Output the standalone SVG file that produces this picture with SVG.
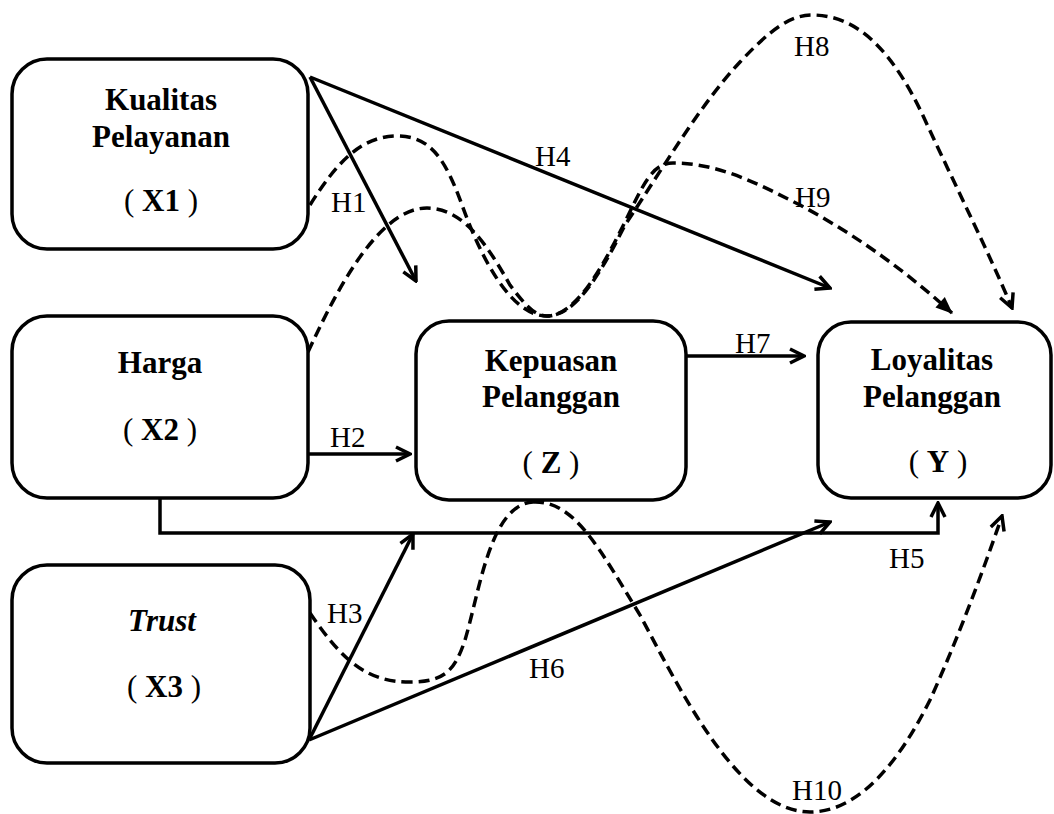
<svg xmlns="http://www.w3.org/2000/svg" width="1054" height="814" viewBox="0 0 1054 814">
<style>
.box{fill:#fff;stroke:#000;stroke-width:3.5}
.t{font-family:"Liberation Serif","Times New Roman",serif;font-size:31px;font-weight:bold;fill:#000;text-anchor:middle}
.p{font-weight:normal}
.lb{font-family:"Liberation Serif","Times New Roman",serif;font-size:29px;fill:#000}
.s{fill:none;stroke:#000;stroke-width:3.5;marker-end:url(#open)}
.d{fill:none;stroke:#000;stroke-width:3.5;stroke-dasharray:11 6}
</style>
<defs>
<marker id="open" markerUnits="userSpaceOnUse" viewBox="0 0 20 20" markerWidth="20" markerHeight="20" refX="18" refY="10" orient="auto">
<path d="M4,3 L18,10 L4,17" fill="none" stroke="#000" stroke-width="3.5" stroke-dasharray="none"/>
</marker>
<marker id="fill" markerUnits="userSpaceOnUse" viewBox="0 0 20 20" markerWidth="20" markerHeight="20" refX="18" refY="10" orient="auto">
<path d="M2,3 L19,10 L2,17 Z" fill="#000" stroke="none"/>
</marker>
</defs>
<rect width="1054" height="814" fill="#fff"/>
<g id="connectors">
<path class="s" d="M310,77 L416,281"/>
<path class="s" d="M310,77 L830,288"/>
<path class="s" d="M308,454 L410,454"/>
<path class="s" d="M686,356 L804,356"/>
<path class="s" d="M160,498 L160,533 L938,533 L938,503"/>
<path class="s" d="M309,740 L413,534"/>
<path class="s" d="M309,740 L830,522"/>
<path class="d" marker-end="url(#open)" d="M310,205 C335,165 360,136 397,136 C430,136 445,158 462,205 C480,255 510,316 547,316 C575,316 600,275 625,225 C665,165 700,105 740,62 C770,30 790,15 812,15 C860,15 895,55 925,120 C955,185 990,255 1012,308"/>
<path class="d" marker-end="url(#fill)" d="M308,352 C330,305 375,208 427,208 C465,208 490,250 510,285 C525,305 535,316 547,316 C577,316 605,262 625,222 C643,185 652,163 673,163 C720,163 760,185 800,205 C860,237 910,275 952,313"/>
<path class="d" d="M310,613 C345,665 370,682 410,682 C445,682 455,670 465,640 C480,590 490,505 533,502"/>
<path class="d" marker-end="url(#open)" d="M533,502 C575,500 600,550 640,615 C680,690 740,812 810,812 C860,812 900,760 930,700 C955,645 980,580 1002,516"/>
</g>
<g id="labels">
<text class="lb" x="331" y="212">H1</text>
<text class="lb" x="330" y="447">H2</text>
<text class="lb" x="327" y="623">H3</text>
<text class="lb" x="535" y="166">H4</text>
<text class="lb" x="889" y="568">H5</text>
<text class="lb" x="529" y="678">H6</text>
<text class="lb" x="735" y="353">H7</text>
<text class="lb" x="794" y="56">H8</text>
<text class="lb" x="795" y="207">H9</text>
<text class="lb" x="792" y="800">H10</text>
</g>
<g id="node-x1">
<rect class="box" x="12" y="59" width="296" height="190" rx="35"/>
<text class="t" x="161" y="110">Kualitas</text>
<text class="t" x="161" y="147">Pelayanan</text>
<text class="t" x="161" y="211"><tspan class="p">( </tspan>X1<tspan class="p"> )</tspan></text>
</g>
<g id="node-x2">
<rect class="box" x="12" y="316" width="296" height="182" rx="35"/>
<text class="t" x="160" y="373">Harga</text>
<text class="t" x="160" y="440"><tspan class="p">( </tspan>X2<tspan class="p"> )</tspan></text>
</g>
<g id="node-x3">
<rect class="box" x="12" y="565" width="298" height="198" rx="35"/>
<text class="t" x="162" y="631" font-style="italic">Trust</text>
<text class="t" x="164" y="697"><tspan class="p">( </tspan>X3<tspan class="p"> )</tspan></text>
</g>
<g id="node-z">
<rect class="box" x="416" y="321" width="270" height="179" rx="33"/>
<text class="t" x="551" y="371">Kepuasan</text>
<text class="t" x="551" y="407">Pelanggan</text>
<text class="t" x="551" y="473"><tspan class="p">( </tspan>Z<tspan class="p"> )</tspan></text>
</g>
<g id="node-y">
<rect class="box" x="818" y="322" width="233" height="176" rx="33"/>
<text class="t" x="932" y="370">Loyalitas</text>
<text class="t" x="932" y="407">Pelanggan</text>
<text class="t" x="938" y="472"><tspan class="p">( </tspan>Y<tspan class="p"> )</tspan></text>
</g>
</svg>
